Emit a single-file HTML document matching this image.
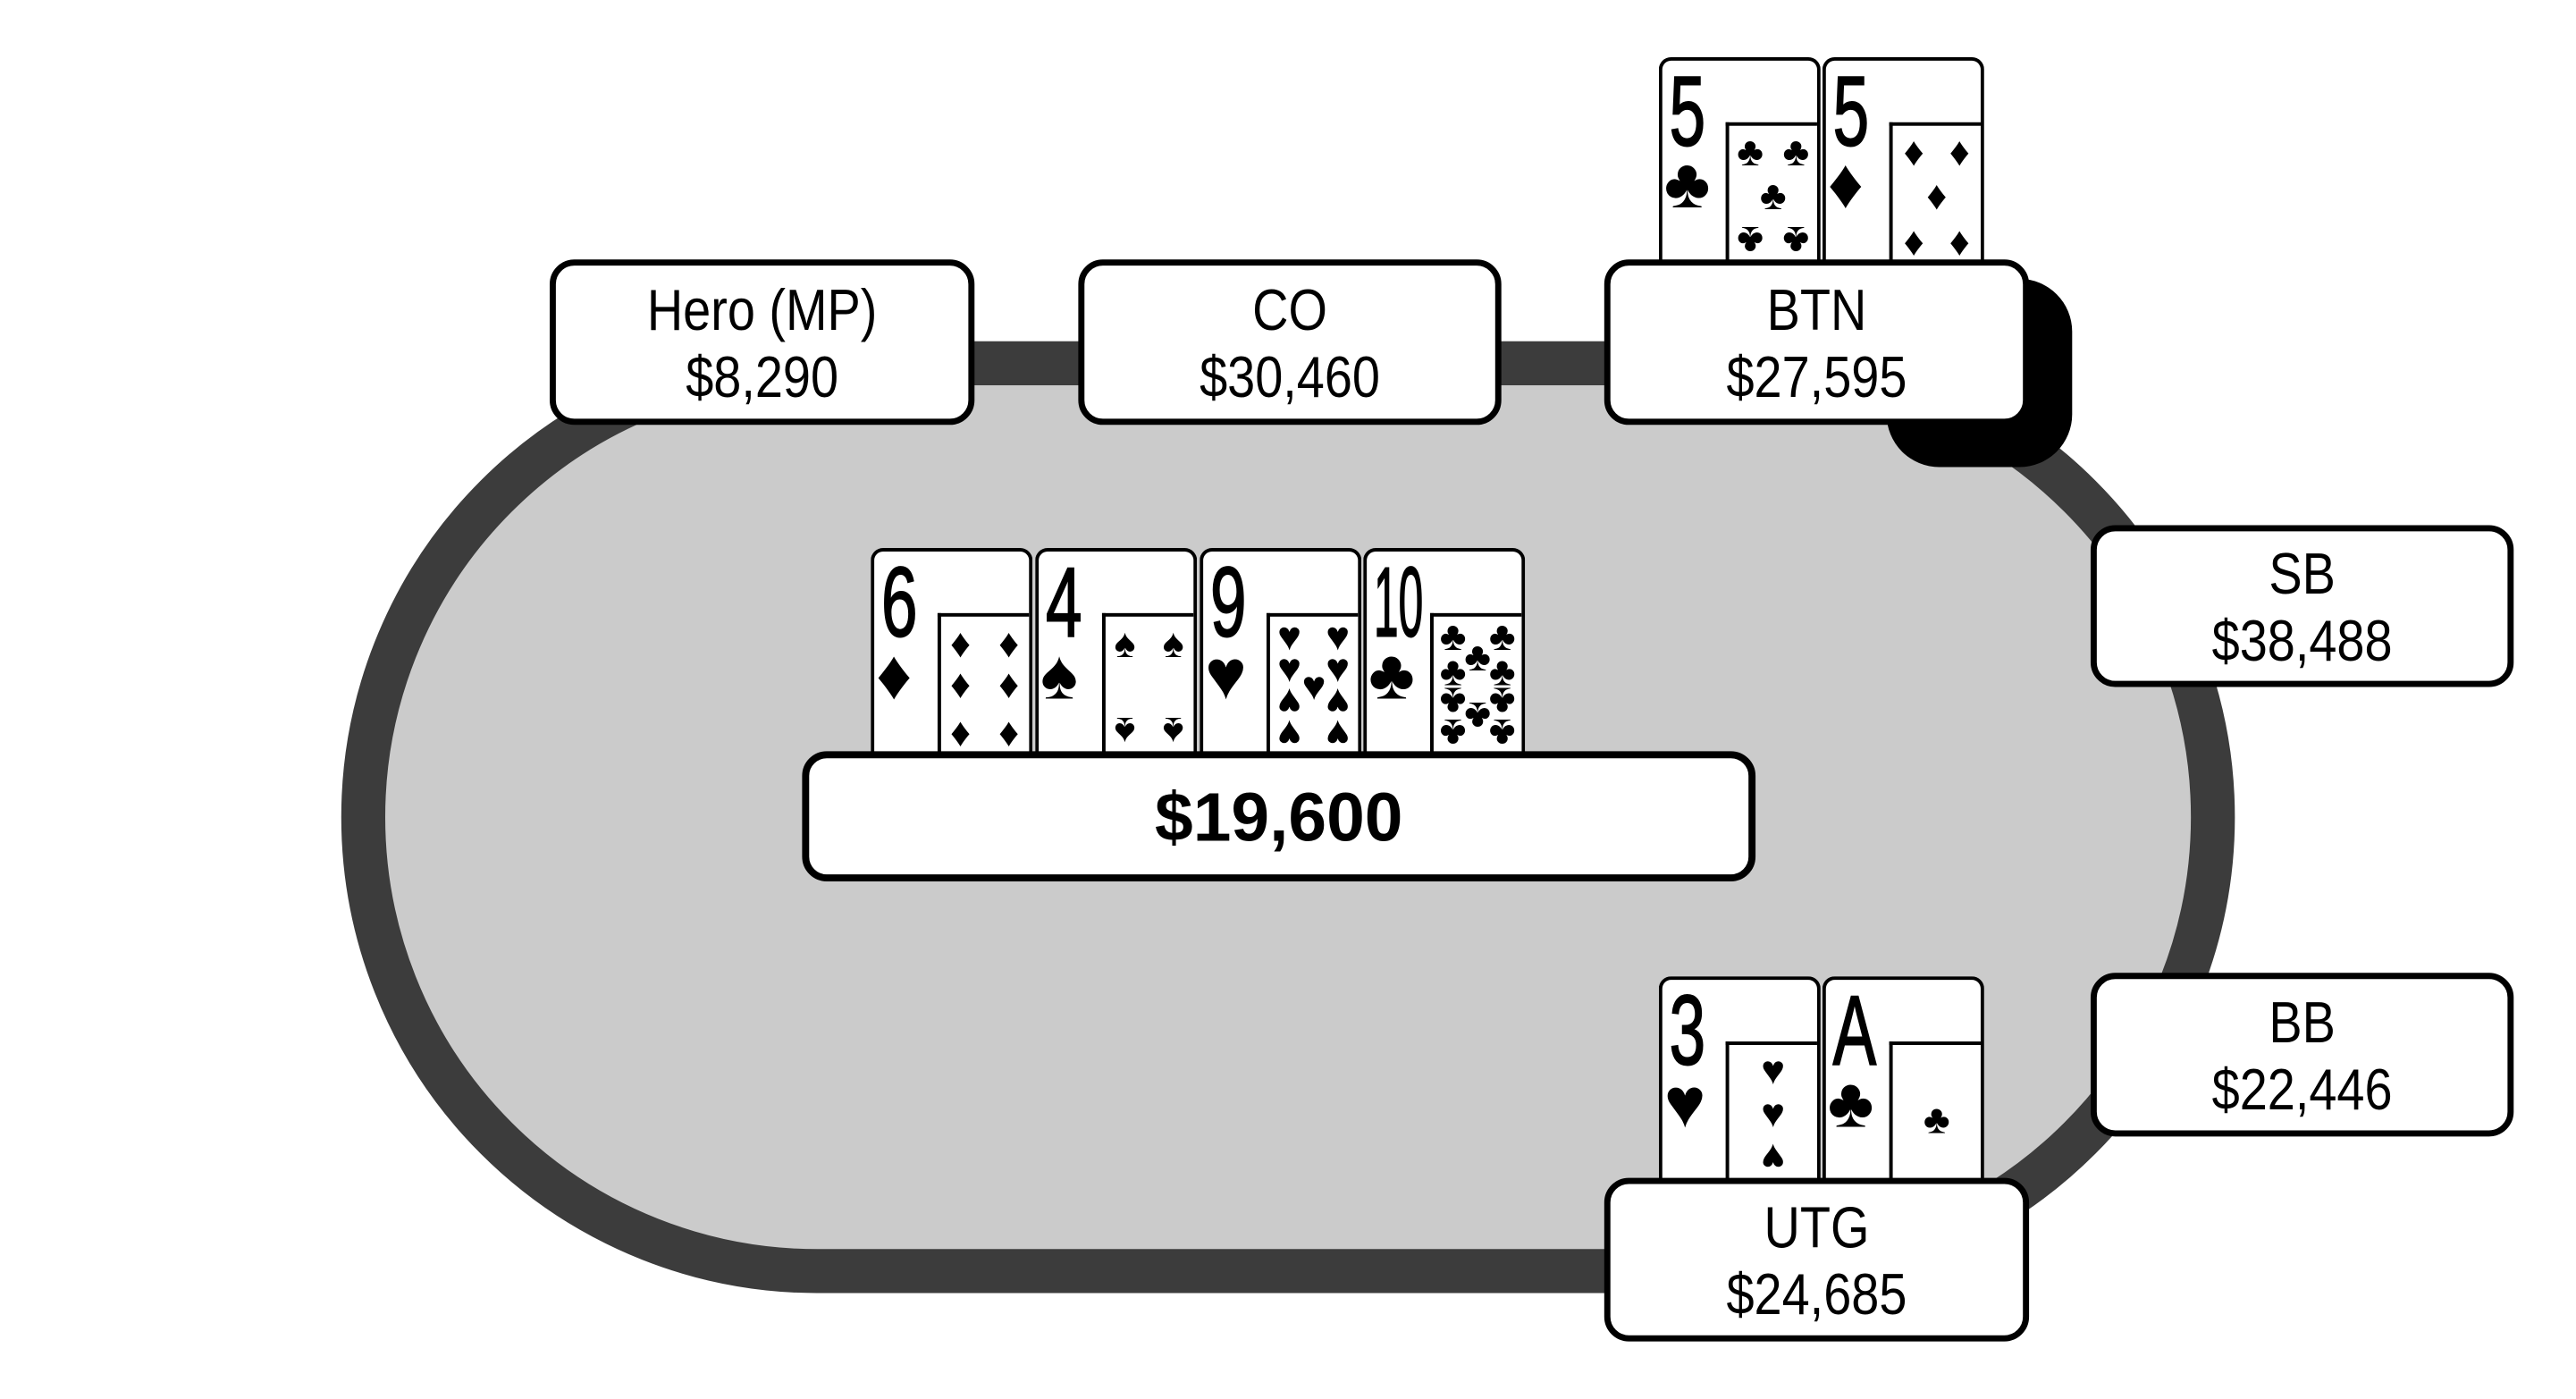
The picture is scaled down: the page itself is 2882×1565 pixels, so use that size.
<!DOCTYPE html>
<html><head><meta charset="utf-8"><style>
body{margin:0;width:2882px;height:1559px;background:#fff;position:relative;overflow:hidden;font-family:"Liberation Sans",sans-serif}
#w{position:absolute;left:0;top:0;width:2930px;height:1590px;transform:scale(0.984);transform-origin:0 0}
.abs{position:absolute}
.table{position:absolute;left:388px;top:388px;width:2153px;height:1082px;box-sizing:border-box;border:50px solid #3c3c3c;border-radius:600px;background:#cbcbcb}
.box{position:absolute;box-sizing:border-box;background:#fff;border:7px solid #000;border-radius:28px;text-align:center}
.box .t{position:absolute;left:0;right:0;font-size:66px;line-height:66px;transform:scaleX(.86)}
.card{position:absolute;box-sizing:border-box;background:#fff;border:4px solid #000;border-bottom:none;border-radius:14px 14px 0 0}
.rank{position:absolute;left:8px;top:2px;font-size:112px;line-height:112px;transform:scaleX(.66);transform-origin:left top;-webkit-text-stroke:2px #000}
.bs{position:absolute;left:2px;top:100px;font-size:80px;line-height:80px}
.panel{position:absolute;left:72px;right:0;top:70px;bottom:0;border-left:4px solid #000;border-top:4px solid #000;background:#fff}
.p{position:absolute;font-size:46px;line-height:46px;transform:translate(-50%,-50%)}
.r{transform:translate(-50%,-50%) rotate(180deg)}
</style></head><body><div id="w">
<div class="table"></div>

<div class="abs" style="left:2145px;top:317px;width:211px;height:214px;background:#000;border-radius:60px"></div>

<div class="box" style="left:625px;top:295px;width:483px;height:188px"><div class="t" style="top:17px">Hero (MP)</div><div class="t" style="top:93px">$8,290</div></div>
<div class="box" style="left:1226px;top:295px;width:481px;height:188px"><div class="t" style="top:17px">CO</div><div class="t" style="top:93px">$30,460</div></div>
<div class="box" style="left:2377px;top:597px;width:481px;height:184px"><div class="t" style="top:15px">SB</div><div class="t" style="top:91px">$38,488</div></div>
<div class="box" style="left:2377px;top:1106px;width:481px;height:186px"><div class="t" style="top:16px">BB</div><div class="t" style="top:92px">$22,446</div></div>

<div class="card" style="left:1886px;top:65px;width:184px;height:232px"><div class="rank">5</div><div class="bs">♣</div>
<div class="panel"><div class="p" style="left:24%;top:19%">♣</div><div class="p" style="left:76%;top:19%">♣</div><div class="p" style="left:50%;top:51%">♣</div><div class="p r" style="left:24%;top:85%">♣</div><div class="p r" style="left:76%;top:85%">♣</div></div></div>
<div class="card" style="left:2072px;top:65px;width:184px;height:232px"><div class="rank">5</div><div class="bs">♦</div>
<div class="panel"><div class="p" style="left:24%;top:19%">♦</div><div class="p" style="left:76%;top:19%">♦</div><div class="p" style="left:50%;top:51%">♦</div><div class="p" style="left:24%;top:85%">♦</div><div class="p" style="left:76%;top:85%">♦</div></div></div>
<div class="box" style="left:1824px;top:295px;width:483px;height:188px"><div class="t" style="top:17px">BTN</div><div class="t" style="top:93px">$27,595</div></div>

<div class="card" style="left:1886px;top:1110px;width:184px;height:231px"><div class="rank">3</div><div class="bs">♥</div>
<div class="panel"><div class="p" style="left:50%;top:18%">♥</div><div class="p" style="left:50%;top:50%">♥</div><div class="p r" style="left:50%;top:84%">♥</div></div></div>
<div class="card" style="left:2072px;top:1110px;width:184px;height:231px"><div class="rank">A</div><div class="bs">♣</div>
<div class="panel"><div class="p" style="left:50%;top:55%">♣</div></div></div>
<div class="box" style="left:1824px;top:1339px;width:483px;height:186px"><div class="t" style="top:16px">UTG</div><div class="t" style="top:92px">$24,685</div></div>

<div class="card" style="left:990px;top:623px;width:184px;height:234px"><div class="rank">6</div><div class="bs">♦</div>
<div class="panel"><div class="p" style="left:22%;top:19%">♦</div><div class="p" style="left:77%;top:19%">♦</div><div class="p" style="left:22%;top:49%">♦</div><div class="p" style="left:77%;top:49%">♦</div><div class="p" style="left:22%;top:84%">♦</div><div class="p" style="left:77%;top:84%">♦</div></div></div>
<div class="card" style="left:1177px;top:623px;width:184px;height:234px"><div class="rank">4</div><div class="bs">♠</div>
<div class="panel"><div class="p" style="left:22%;top:19%">♠</div><div class="p" style="left:77%;top:19%">♠</div><div class="p r" style="left:22%;top:84%">♠</div><div class="p r" style="left:77%;top:84%">♠</div></div></div>
<div class="card" style="left:1364px;top:623px;width:184px;height:234px"><div class="rank">9</div><div class="bs">♥</div>
<div class="panel"><div class="p" style="left:22%;top:14%">♥</div><div class="p" style="left:77%;top:14%">♥</div><div class="p" style="left:22%;top:37%">♥</div><div class="p" style="left:77%;top:37%">♥</div><div class="p" style="left:50%;top:50%">♥</div><div class="p r" style="left:22%;top:63%">♥</div><div class="p r" style="left:77%;top:63%">♥</div><div class="p r" style="left:22%;top:86%">♥</div><div class="p r" style="left:77%;top:86%">♥</div></div></div>
<div class="card" style="left:1550px;top:623px;width:184px;height:234px"><div class="rank" style="transform:scaleX(.45)">10</div><div class="bs">♣</div>
<div class="panel"><div class="p" style="left:22%;top:14%">♣</div><div class="p" style="left:78%;top:14%">♣</div><div class="p" style="left:50%;top:29%">♣</div><div class="p" style="left:22%;top:40%">♣</div><div class="p" style="left:78%;top:40%">♣</div><div class="p r" style="left:22%;top:62%">♣</div><div class="p r" style="left:78%;top:62%">♣</div><div class="p r" style="left:50%;top:73%">♣</div><div class="p r" style="left:22%;top:85%">♣</div><div class="p r" style="left:78%;top:85%">♣</div></div></div>

<div class="box" style="left:912px;top:854px;width:1084px;height:148px;border-width:8px"><div style="position:absolute;left:0;right:0;top:28px;font-size:78px;line-height:78px;font-weight:bold">$19,600</div></div>
</div></body></html>
